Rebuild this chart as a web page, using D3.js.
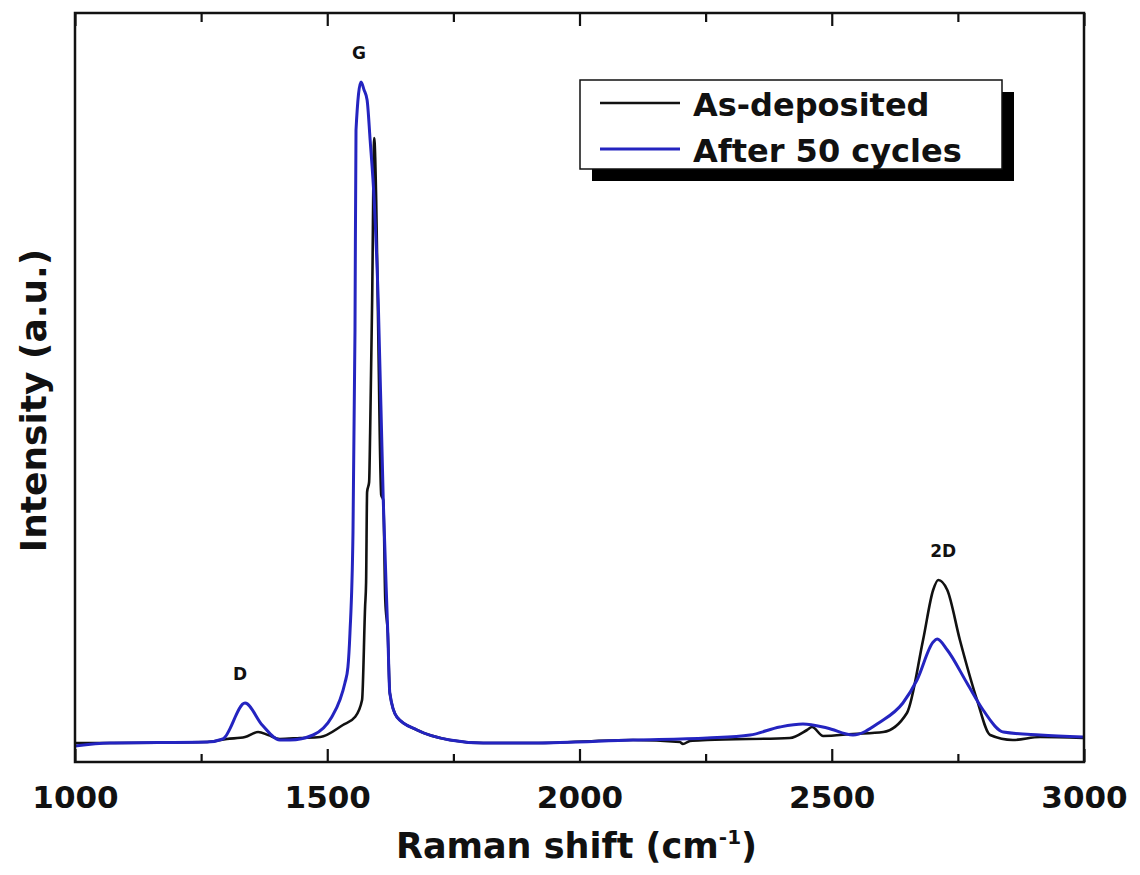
<!DOCTYPE html>
<html>
<head>
<meta charset="utf-8">
<script src="https://cdn.jsdelivr.net/npm/d3@7"></script>
<style>
  body { margin: 0; background: #fff; }
  svg text { font-family: "DejaVu Sans", Verdana, sans-serif; font-weight: bold; fill: #111; }
</style>
</head>
<body>
<svg id="chart"></svg>
<script>
// Raman spectra (shift in cm^-1, intensity in a.u.)
const asDepShift = [1000, 1069, 1262, 1301, 1337, 1363, 1383, 1406, 1446, 1486, 1531, 1555, 1569, 1575, 1577, 1579, 1583,
    1585, 1589, 1593, 1597, 1601, 1607, 1611, 1615, 1620, 1624, 1638, 1678, 1743, 1809, 1908, 2106, 2199, 2205, 2219,
    2253, 2417, 2451, 2461, 2483, 2542, 2602, 2649, 2681, 2701, 2711, 2729, 2754, 2788, 2814, 2859, 2913, 2998];
const asDepIntensity = [190, 190, 200, 230, 250, 300, 270, 230, 240, 250, 370, 450, 620, 1550, 1800, 2700, 2800,
    3290, 4620, 6240, 5620, 4320, 2670, 2620, 1620, 1290, 690, 450, 320, 220, 190, 190, 220, 200, 180, 210,
    220, 240, 320, 350, 260, 280, 300, 490, 1220, 1720, 1820, 1720, 1220, 620, 270, 220, 250, 240];

const cycledShift = [1000, 1069, 1262, 1293, 1337, 1371, 1406, 1426, 1472, 1509, 1525, 1535, 1541, 1545, 1551, 1555,
    1557, 1567, 1573, 1579, 1585, 1593, 1601, 1611, 1620, 1624, 1638, 1678, 1743, 1809, 1908, 2106, 2253, 2338,
    2397, 2443, 2491, 2542, 2596, 2641, 2669, 2701, 2709, 2729, 2768, 2800, 2840, 2913, 2998];
const cycledIntensity = [160, 190, 200, 230, 590, 370, 220, 220, 270, 450, 620, 790, 950, 1290, 2290, 4320,
    6320, 6800, 6720, 6620, 6220, 5620, 4620, 2620, 1290, 690, 450, 320, 220, 190, 190, 220, 240, 270,
    350, 380, 340, 270, 400, 590, 820, 1200, 1230, 1120, 790, 520, 300, 270, 250];

const seriesNames = ["As-deposited", "After 50 cycles"];
const seriesColors = ["#111111", "#2424c0"];

const majorTicks = [1000, 1500, 2000, 2500, 3000];
const minorTicks = [1250, 1750, 2250, 2750];

const peakNames = ["D", "G", "2D"];
const peakShifts = [1327, 1563, 2721];
const peakHeights = [820, 7030, 2050];

class RamanPlot {
    constructor(_config) {
        this.config = {
            parentElement: _config.parentElement,
            containerWidth: _config.containerWidth || 1140,
            containerHeight: _config.containerHeight || 875,
            margin: _config.margin || {top: 13, right: 56, bottom: 113, left: 75}
        };
        this.initVis();
    }

    initVis() {
        let vis = this;
        vis.width = vis.config.containerWidth - vis.config.margin.left - vis.config.margin.right;
        vis.height = vis.config.containerHeight - vis.config.margin.top - vis.config.margin.bottom;

        vis.xScale = d3.scaleLinear().domain([1000, 3000]).range([0, vis.width]);
        vis.yScale = d3.scaleLinear().domain([0, 7490]).range([vis.height, 0]);

        vis.svg = d3.select(vis.config.parentElement)
            .attr("width", vis.config.containerWidth)
            .attr("height", vis.config.containerHeight);

        vis.chart = vis.svg.append("g")
            .attr("transform", `translate(${vis.config.margin.left},${vis.config.margin.top})`);

        vis.series = [
            {name: seriesNames[0], color: seriesColors[0], width: 2.6,
                values: asDepShift.map((s, i) => [s, asDepIntensity[i]])},
            {name: seriesNames[1], color: seriesColors[1], width: 3,
                values: cycledShift.map((s, i) => [s, cycledIntensity[i]])}
        ];

        vis.renderVis();
    }

    renderVis() {
        let vis = this;

        const line = d3.line()
            .x(d => vis.xScale(d[0]))
            .y(d => vis.yScale(d[1]))
            .curve(d3.curveMonotoneX);

        vis.chart.selectAll(".spectrum")
            .data(vis.series)
            .join("path")
            .attr("class", "spectrum")
            .attr("fill", "none")
            .attr("stroke", d => d.color)
            .attr("stroke-width", d => d.width)
            .attr("stroke-linejoin", "round")
            .attr("d", d => line(d.values));

        // peak labels
        vis.chart.selectAll(".peak-label")
            .data(peakNames)
            .join("text")
            .attr("class", "peak-label")
            .attr("x", (d, i) => vis.xScale(peakShifts[i]))
            .attr("y", (d, i) => vis.yScale(peakHeights[i]))
            .attr("text-anchor", "middle")
            .style("font-size", "17px")
            .text(d => d);

        // bottom axis, ticks pointing inward
        const xAxisG = vis.chart.append("g")
            .attr("transform", `translate(0,${vis.height})`)
            .call(d3.axisBottom(vis.xScale).tickValues(majorTicks).tickSize(-13).tickPadding(24).tickFormat(d3.format("d")));
        xAxisG.selectAll("text").style("font-size", "31px").attr("fill", "#111");

        vis.chart.append("g")
            .attr("transform", `translate(0,${vis.height})`)
            .call(d3.axisBottom(vis.xScale).tickValues(minorTicks).tickSize(-8).tickFormat(""));

        // top axis mirrored
        vis.chart.append("g")
            .call(d3.axisTop(vis.xScale).tickValues(majorTicks).tickSize(-13).tickFormat(""));
        vis.chart.append("g")
            .call(d3.axisTop(vis.xScale).tickValues(minorTicks).tickSize(-9).tickFormat(""));

        vis.chart.selectAll(".domain").remove();
        vis.chart.selectAll(".tick line").attr("stroke", "#111").attr("stroke-width", 2.2);

        // frame
        vis.chart.append("rect")
            .attr("width", vis.width)
            .attr("height", vis.height)
            .attr("fill", "none")
            .attr("stroke", "#111")
            .attr("stroke-width", 2.5);

        // axis titles
        const xTitle = vis.chart.append("text")
            .attr("x", vis.width / 2 - 3)
            .attr("y", vis.height + 96)
            .attr("text-anchor", "middle")
            .style("font-size", "35px");
        xTitle.append("tspan").text("Raman shift (cm");
        xTitle.append("tspan").attr("dy", -14).style("font-size", "20px").text("-1");
        xTitle.append("tspan").attr("dy", 14).text(")");

        vis.chart.append("text")
            .attr("transform", `translate(${-29},${vis.height / 2 + 13}) rotate(-90)`)
            .attr("text-anchor", "middle")
            .style("font-size", "36px")
            .text("Intensity (a.u.)");

        // legend with drop shadow
        const legend = vis.chart.append("g").attr("transform", "translate(505,67)");
        legend.append("rect")
            .attr("x", 12).attr("y", 12)
            .attr("width", 422).attr("height", 89)
            .attr("fill", "#000");
        legend.append("rect")
            .attr("width", 422).attr("height", 89)
            .attr("fill", "#fff")
            .attr("stroke", "#111")
            .attr("stroke-width", 1.5);

        const items = legend.selectAll(".legend-item")
            .data(vis.series)
            .join("g")
            .attr("class", "legend-item")
            .attr("transform", (d, i) => `translate(0,${23 + i * 46})`);
        items.append("line")
            .attr("x1", 20).attr("x2", 100)
            .attr("stroke", d => d.color)
            .attr("stroke-width", d => d.width);
        items.append("text")
            .attr("x", 113)
            .attr("y", 13)
            .style("font-size", "32px")
            .text(d => d.name);
    }
}

new RamanPlot({parentElement: "#chart"});
</script>
</body>
</html>
